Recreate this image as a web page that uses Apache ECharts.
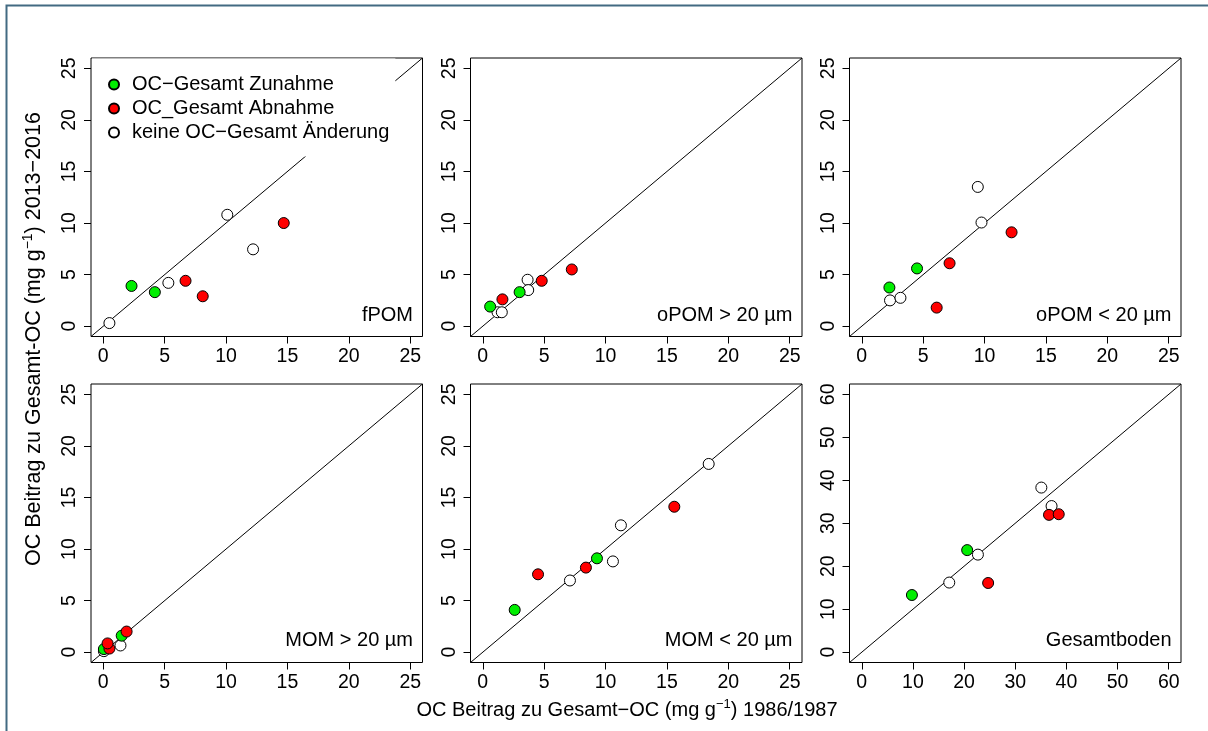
<!DOCTYPE html>
<html><head><meta charset="utf-8">
<script src="https://cdn.jsdelivr.net/npm/echarts@6/dist/echarts.min.js"></script>
<style>html,body{margin:0;padding:0;background:#fff}#c{width:1208px;height:731px}</style>
</head><body><div id="c"></div>
<script>
// ---------- data ----------
const seriesNames = ['OC\u2212Gesamt Zunahme', 'OC_Gesamt Abnahme', 'keine OC\u2212Gesamt \u00c4nderung'];
const panelLabels = ['fPOM', 'oPOM > 20 \u00b5m', 'oPOM < 20 \u00b5m', 'MOM > 20 \u00b5m', 'MOM < 20 \u00b5m', 'Gesamtboden'];
const ticksSmall = [0, 5, 10, 15, 20, 25];
const ticksLarge = [0, 10, 20, 30, 40, 50, 60];

const fpomGreen = [[2.3, 3.9], [4.2, 3.3]];
const fpomRed = [[6.7, 4.4], [8.1, 2.9], [14.7, 10.0]];
const fpomOpen = [[0.5, 0.3], [5.3, 4.2], [10.1, 10.8], [12.2, 7.45]];

const opomGtGreen = [[0.6, 1.9], [3.0, 3.3]];
const opomGtRed = [[1.6, 2.6], [4.8, 4.4], [7.25, 5.5]];
const opomGtOpen = [[1.2, 1.35], [1.55, 1.35], [3.65, 4.5], [3.7, 3.5]];

const opomLtGreen = [[2.25, 3.75], [4.5, 5.6]];
const opomLtRed = [[6.1, 1.8], [7.15, 6.1], [12.2, 9.1]];
const opomLtOpen = [[2.3, 2.5], [3.15, 2.75], [9.45, 13.5], [9.75, 10.05]];

const momGtGreen = [[0.05, 0.3], [1.5, 1.6]];
const momGtRed = [[0.5, 0.35], [0.35, 0.85], [1.9, 2.0]];
const momGtOpen = [[0.05, 0.1], [1.4, 0.65]];

const momLtGreen = [[2.6, 4.1], [9.3, 9.1]];
const momLtRed = [[4.5, 7.55], [8.4, 8.2], [15.6, 14.1]];
const momLtOpen = [[7.1, 6.95], [10.6, 8.8], [11.25, 12.3], [18.4, 18.25]];

const gesGreen = [[9.8, 13.3], [20.6, 23.75]];
const gesRed = [[24.7, 16.1], [36.6, 31.95], [38.5, 32.1]];
const gesOpen = [[17.1, 16.2], [22.7, 22.7], [35.1, 38.3], [37.1, 34.0]];

// ---------- layout ----------
const FONT = 'Liberation Sans, Arial, Helvetica, sans-serif';
const TXT = 20;
const panels = [
  { ticks: ticksSmall, green: fpomGreen, red: fpomRed, open: fpomOpen },
  { ticks: ticksSmall, green: opomGtGreen, red: opomGtRed, open: opomGtOpen },
  { ticks: ticksSmall, green: opomLtGreen, red: opomLtRed, open: opomLtOpen },
  { ticks: ticksSmall, green: momGtGreen, red: momGtRed, open: momGtOpen },
  { ticks: ticksSmall, green: momLtGreen, red: momLtRed, open: momLtOpen },
  { ticks: ticksLarge, green: gesGreen, red: gesRed, open: gesOpen }
];
const colLeft = [91, 470.5, 849.5];
const rowTop = [58, 384];
const boxW = 331.5, boxH = 278.5;

const grids = [], xAxes = [], yAxes = [], series = [], graphics = [];
panels.forEach((p, i) => {
  const c = i % 3, r = Math.floor(i / 3);
  grids.push({ left: colLeft[c], top: rowTop[r], width: boxW, height: boxH, show: true,
    borderColor: '#000', borderWidth: 1, backgroundColor: 'transparent', outerBoundsMode: 'none', containLabel: false });
  const t0 = p.ticks[0], t1 = p.ticks[p.ticks.length - 1];
  const ext = (t1 - t0) * 0.04;
  const mn = t0 - ext, mx = t1 + ext;
  const common = {
    gridIndex: i, type: 'value', min: mn, max: mx,
    axisLine: { show: false, onZero: false }, splitLine: { show: false },
    axisTick: { show: true, customValues: p.ticks, length: 7, inside: false, lineStyle: { color: '#000', width: 1 } }
  };
  xAxes.push(Object.assign({}, common, {
    position: 'bottom',
    axisLabel: { customValues: p.ticks, margin: 10, fontSize: 19.5, color: '#000', fontFamily: FONT }
  }));
  yAxes.push(Object.assign({}, common, {
    position: 'left',
    axisLabel: { customValues: p.ticks, margin: 11, rotate: 90, fontSize: 19.5, color: '#000', fontFamily: FONT }
  }));
  series.push({ type: 'line', name: '1:1', xAxisIndex: i, yAxisIndex: i, data: [[mn, mn], [mx, mx]],
    showSymbol: false, symbol: 'none', clip: true, lineStyle: { color: '#000', width: 1 }, silent: true, z: 2 });
  const sc = (name, data, color) => ({
    type: 'scatter', name, xAxisIndex: i, yAxisIndex: i, data, symbol: 'circle', symbolSize: 11,
    itemStyle: { color, borderColor: '#000', borderWidth: 1, opacity: 1 }, z: 3
  });
  series.push(sc(seriesNames[2], p.open, '#ffffff'));
  series.push(sc(seriesNames[0], p.green, '#00ee00'));
  series.push(sc(seriesNames[1], p.red, '#ff0000'));
  graphics.push({ type: 'text', x: colLeft[c] + boxW - 9.5, y: r === 0 ? 315 : 640, z: 20,
    style: { text: panelLabels[i], align: 'right', verticalAlign: 'middle', fill: '#000', fontSize: TXT, fontFamily: FONT } });
});

// outer frame
graphics.push({ type: 'rect', shape: { x: 6.5, y: 5.5, width: 1400, height: 1000 }, z: 30, silent: true,
  style: { fill: 'none', stroke: '#426a82', lineWidth: 2 } });
// axis titles
const richX = { a: { fontSize: TXT, lineHeight: 24, fontFamily: FONT, fill: '#000' }, s: { fontSize: 13, lineHeight: 13, verticalAlign: 'top', fontFamily: FONT, fill: '#000' } };
const richY = { a: { fontSize: 21.5, lineHeight: 25, fontFamily: FONT, fill: '#000' }, s: { fontSize: 14, lineHeight: 14, verticalAlign: 'top', fontFamily: FONT, fill: '#000' } };
graphics.push({ type: 'text', x: 34, y: 339, rotation: Math.PI / 2, z: 20,
  style: { text: '{a|OC Beitrag zu Gesamt-OC (mg g}{s|\u22121}{a|) 2013\u22122016}', align: 'center', verticalAlign: 'middle',
    fill: '#000', fontSize: 21.5, fontFamily: FONT, rich: richY } });
graphics.push({ type: 'text', x: 627, y: 710, z: 20,
  style: { text: '{a|OC Beitrag zu Gesamt\u2212OC (mg g}{s|\u22121}{a|) 1986/1987}', align: 'center', verticalAlign: 'middle',
    fill: '#000', fontSize: TXT, fontFamily: FONT, rich: richX } });

const option = {
  animation: false,
  backgroundColor: '#fff',
  grid: grids, xAxis: xAxes, yAxis: yAxes, series,
  legend: {
    data: [seriesNames[0], seriesNames[1], seriesNames[2]],
    orient: 'vertical', left: 92, top: 58.5,
    padding: [14, 6, 12, 16], itemWidth: 10, itemHeight: 10, itemGap: 0,
    icon: 'circle', backgroundColor: '#fff', z: 10, selectedMode: false,
    textStyle: { fontSize: TXT, lineHeight: 24, color: '#000', fontFamily: FONT, padding: [0, 0, 0, 8] }
  },
  graphic: graphics
};
const chart = echarts.init(document.getElementById('c'), null, { renderer: 'canvas' });
chart.setOption(option);
</script></body></html>
